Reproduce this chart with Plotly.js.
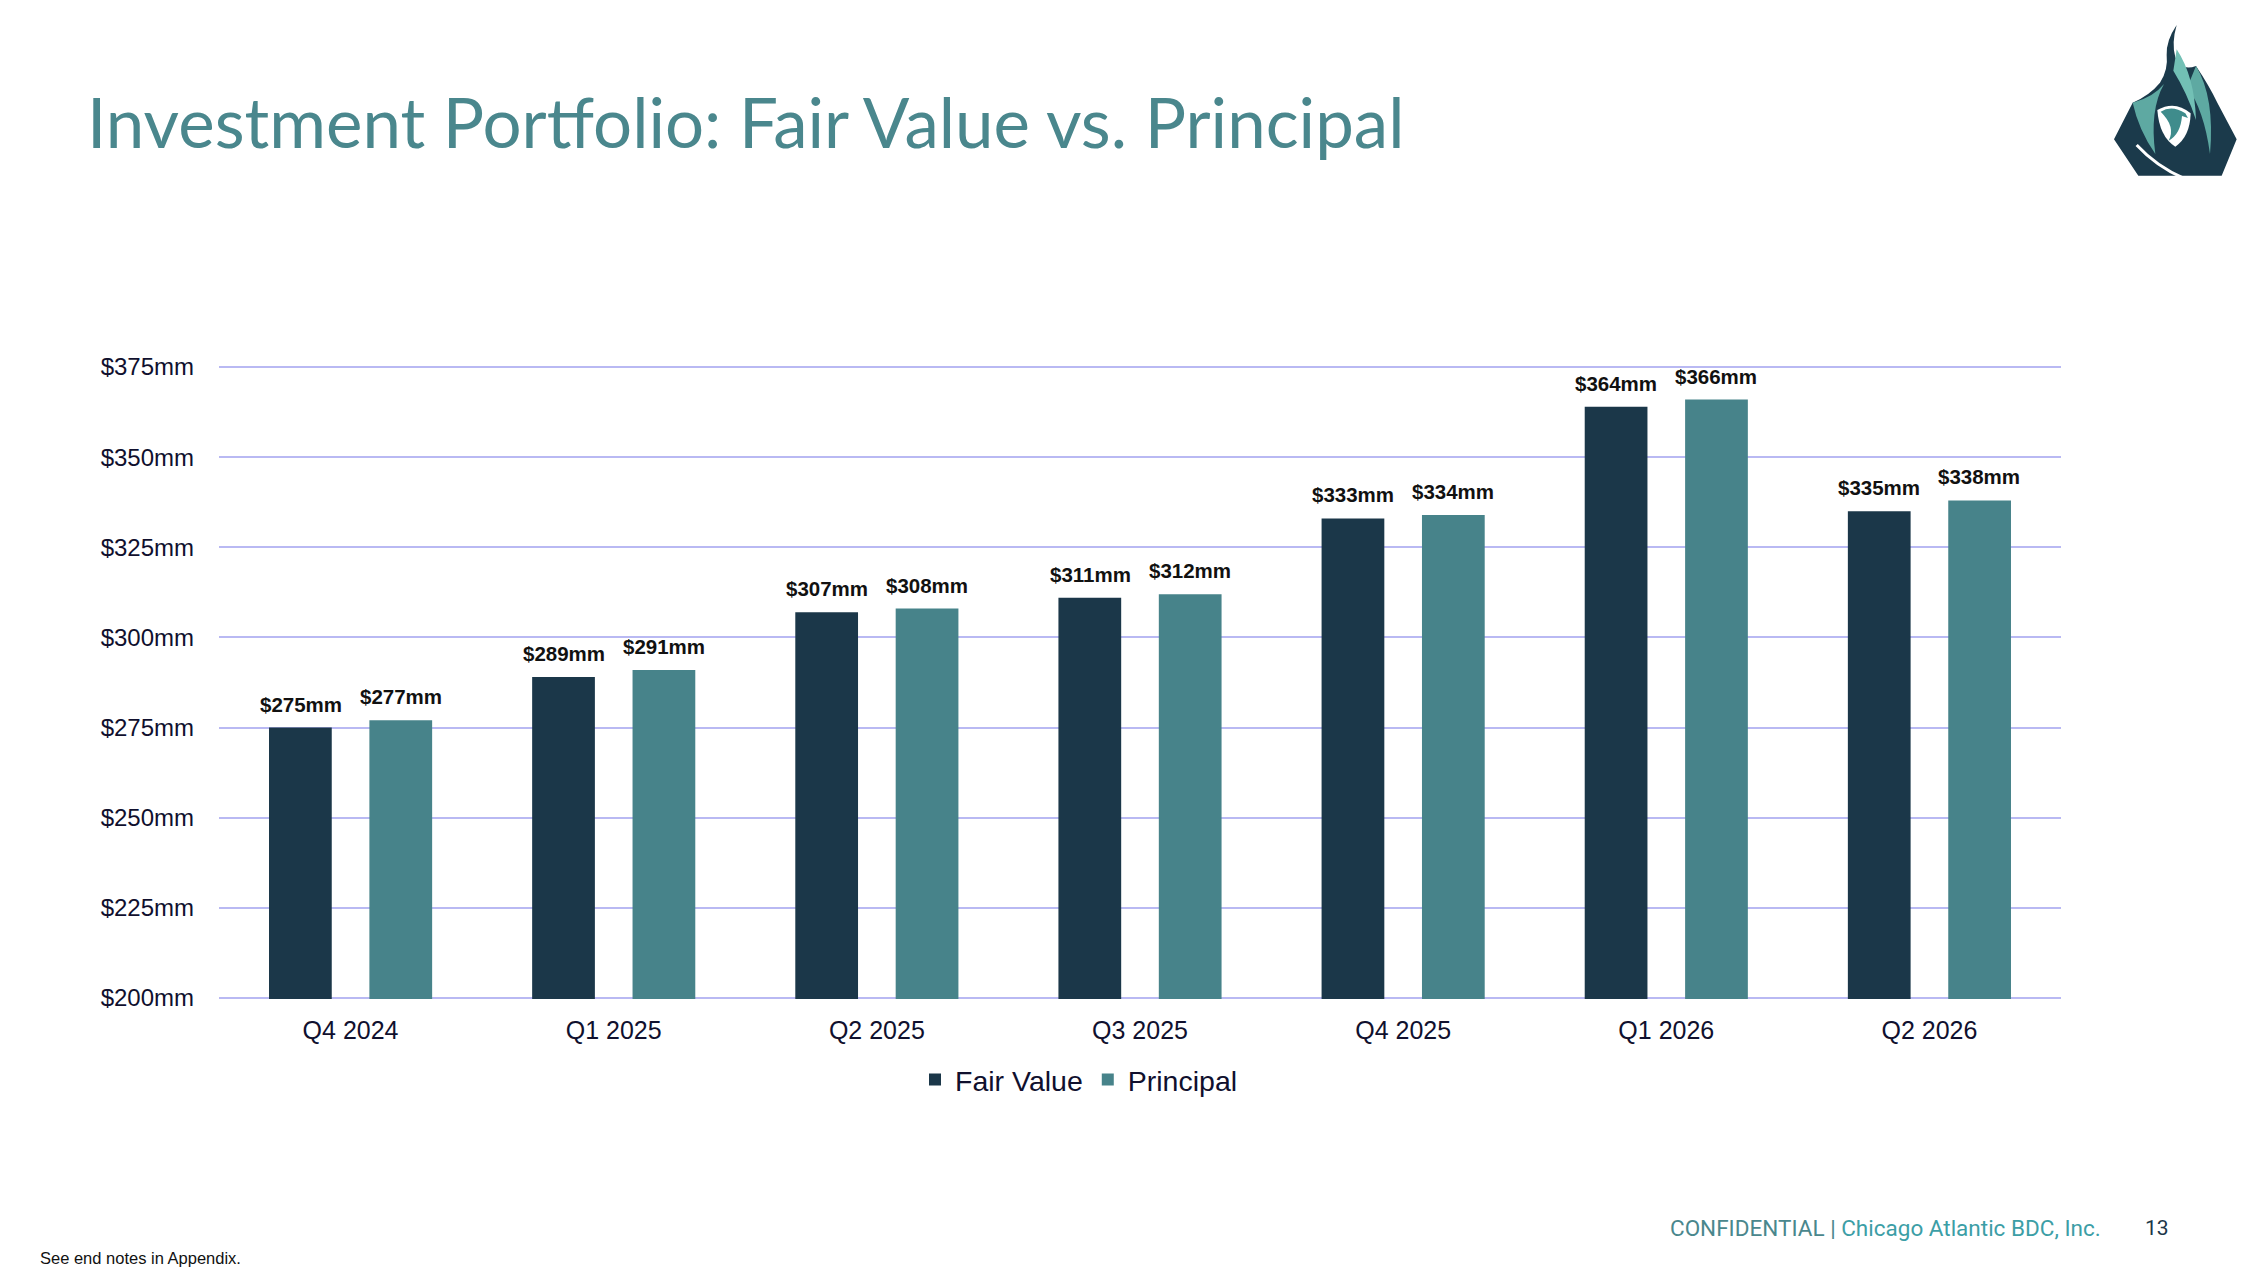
<!DOCTYPE html>
<html>
<head>
<meta charset="utf-8">
<script src="https://cdn.plot.ly/plotly-3.0.1.min.js"></script>
<style>
  html, body { margin: 0; padding: 0; background: #ffffff; }
</style>
</head>
<body>
<div id="chart"></div>
<script>
var quarters = ['Q4 2024', 'Q1 2025', 'Q2 2025', 'Q3 2025', 'Q4 2025', 'Q1 2026', 'Q2 2026'];
var fairValue = [275, 289, 307, 311, 333, 364, 335];
var principal = [277, 291, 308, 312, 334, 366, 338];
var yTicks = [200, 225, 250, 275, 300, 325, 350, 375];
var yTickText = yTicks.map(function (v) { return '$' + v + 'mm'; });

var NAVY = '#1b3749';
var TEAL = '#47838a';
var INK = '#10102e';

// plot area in page pixels
var W = 2267, H = 1275;
var L = 219, R = 2061, T = 366, B = 999;
var Y0 = 200, Y1 = 375;
// tiny pad so the top/bottom grid lines are not clipped away
var PAD = 0.3;
function px(x) { return (x - L) / (R - L); }
function py(y) { return (B - y) / (B - T); }

var fair = {
    x: quarters,
    y: fairValue,
    type: 'bar',
    name: 'Fair Value',
    marker: { color: NAVY },
    hoverinfo: 'none'
};

var prin = {
    x: quarters,
    y: principal,
    type: 'bar',
    name: 'Principal',
    marker: { color: TEAL },
    hoverinfo: 'none'
};

// value labels above each bar
var labelFont = { family: 'Liberation Sans, Arial', size: 20.5, color: '#111111', weight: 'bold' };
var labels = [];
quarters.forEach(function (q, i) {
    labels.push({ x: q, y: fairValue[i], xref: 'x', yref: 'y', xshift: -50, yshift: 10,
        yanchor: 'bottom', showarrow: false, text: '$' + fairValue[i] + 'mm', font: labelFont });
    labels.push({ x: q, y: principal[i], xref: 'x', yref: 'y', xshift: 50, yshift: 10,
        yanchor: 'bottom', showarrow: false, text: '$' + principal[i] + 'mm', font: labelFont });
});

labels.push({
    x: px(85), y: py(121), xref: 'paper', yref: 'paper', xanchor: 'left', yanchor: 'middle',
    showarrow: false, text: 'Investment Portfolio: Fair Value vs. Principal',
    font: { family: 'Lato', size: 69, color: '#4a878d' }
});
labels.push({
    x: px(2103), y: py(1228), xref: 'paper', yref: 'paper', xanchor: 'right', yanchor: 'middle',
    showarrow: false,
    text: 'CONFIDENTIAL | <span style="color:#3c9ea6">Chicago Atlantic BDC, Inc.</span>',
    font: { family: 'Roboto', size: 22.5, color: '#4a878d' }
});
labels.push({
    x: px(2143), y: py(1228), xref: 'paper', yref: 'paper', xanchor: 'left', yanchor: 'middle',
    showarrow: false, text: '13',
    font: { family: 'Roboto', size: 21, color: NAVY }
});
labels.push({
    x: px(38), y: py(1258), xref: 'paper', yref: 'paper', xanchor: 'left', yanchor: 'middle',
    showarrow: false, text: 'See end notes in Appendix.',
    font: { family: 'Liberation Sans, Arial', size: 16.5, color: '#111111' }
});

var logo = '<svg xmlns="http://www.w3.org/2000/svg" viewBox="0 0 501 540">' +
    '<path fill="#1b3a4b" d="M42,388 L98,278 Q150,255 180,218 Q205,180 200,135 Q198,92 230,45 Q214,100 226,142 Q244,185 288,168 Q328,228 352,278 L410,388 L365,497 L115,497 Z"/>' +
    '<path fill="#5ea9a2" d="M98,278 Q160,262 192,222 Q148,300 166,432 Q116,360 98,278 Z"/>' +
    '<path fill="#5ea9a2" d="M288,168 Q345,262 330,432 Q312,300 262,232 Z"/>' +
    '<path fill="#72c0b5" d="M230,118 Q284,200 288,330 Q262,250 220,182 Z"/>' +
    '<path fill="#ffffff" d="M172,300 Q225,270 272,310 Q270,380 226,410 Q178,380 172,300 Z"/>' +
    '<path fill="#3f8c8c" d="M182,305 Q216,284 256,310 L264,324 L246,318 Q242,372 206,392 Q228,350 182,305 Z"/>' +
    '<path fill="none" stroke="#ffffff" stroke-width="9" d="M110,405 Q170,470 252,505"/>' +
    '</svg>';

var layout = {
    width: W,
    height: H,
    margin: { l: L, r: W - R, t: T, b: H - B, pad: 0 },
    paper_bgcolor: '#ffffff',
    plot_bgcolor: '#ffffff',
    barmode: 'group',
    bargap: 0.237,
    bargroupgap: 0.375,
    showlegend: true,
    legend: {
        orientation: 'h',
        x: px(915), xanchor: 'left',
        y: py(1080), yanchor: 'middle',
        font: { family: 'Liberation Sans, Arial', size: 28.5, color: INK },
        itemclick: false
    },
    xaxis: {
        type: 'category',
        showgrid: false,
        zeroline: false,
        showline: false,
        ticks: '',
        ticklabelstandoff: 14,
        tickfont: { family: 'Liberation Sans, Arial', size: 25, color: INK }
    },
    yaxis: {
        range: [Y0 - PAD, Y1 + PAD],
        tickmode: 'array',
        tickvals: yTicks,
        ticktext: yTickText,
        showgrid: true,
        gridcolor: '#b9b9f3',
        gridwidth: 2,
        zeroline: false,
        showline: false,
        ticks: '',
        ticklabelstandoff: 24,
        tickfont: { family: 'Liberation Sans, Arial', size: 24, color: INK }
    },
    annotations: labels,
    images: [{
        source: 'data:image/svg+xml;charset=utf-8,' + encodeURIComponent(logo),
        xref: 'paper', yref: 'paper',
        x: px(2100), y: py(10),
        sizex: 167 / (R - L), sizey: 180 / (B - T),
        sizing: 'stretch', xanchor: 'left', yanchor: 'top',
        layer: 'above'
    }]
};

var config = {
    staticPlot: true
};

Plotly.newPlot(document.getElementById('chart'), [fair, prin], layout, config);
</script>
</body>
</html>
